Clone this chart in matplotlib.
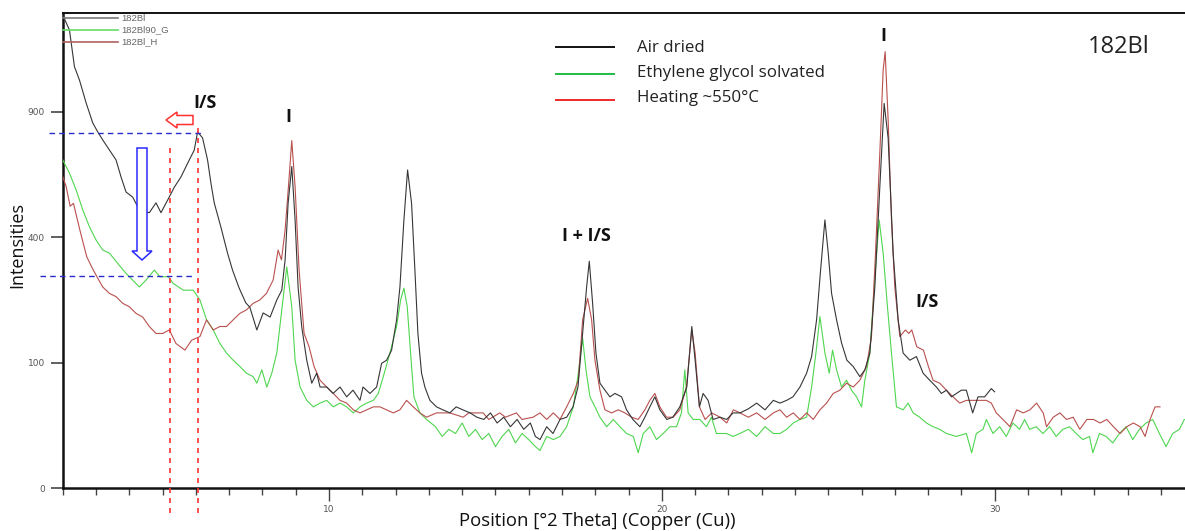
import numpy as np
import matplotlib
matplotlib.use("Agg")
import matplotlib.pyplot as plt
from matplotlib.patches import Polygon
from matplotlib.lines import Line2D
from matplotlib.ticker import MultipleLocator, FixedLocator
import matplotlib.transforms as mtransforms

# ---------------- data ----------------
air_x = [2.0, 2.2, 2.35, 2.5, 2.7, 2.9, 3.05, 3.2, 3.4, 3.6, 3.75, 3.9, 4.1, 4.3, 4.45, 4.6, 4.8, 4.95,
         5.15, 5.35, 5.55, 5.8, 5.95, 6.05, 6.2, 6.35, 6.45, 6.55, 6.75, 6.95, 7.1, 7.3, 7.5, 7.62, 7.83,
         8.02, 8.23, 8.43, 8.58, 8.68, 8.77, 8.88, 8.98, 9.07, 9.18, 9.33, 9.48, 9.63, 9.73, 9.93, 10.12,
         10.33, 10.53, 10.72, 10.93, 11.02, 11.23, 11.43, 11.58, 11.73, 11.88, 12.03, 12.13, 12.25, 12.36,
         12.48, 12.58, 12.67, 12.78, 12.88, 13.03, 13.23, 13.42, 13.63, 13.82, 14.02, 14.24, 14.44, 14.65,
         14.85, 15.05, 15.25, 15.45, 15.65, 15.85, 16.05, 16.2, 16.34, 16.54, 16.73, 16.94, 17.14, 17.33,
         17.48, 17.63, 17.74, 17.82, 17.92, 18.02, 18.14, 18.29, 18.44, 18.59, 18.79, 18.94, 19.13, 19.34,
         19.49, 19.64, 19.79, 19.94, 20.15, 20.33, 20.54, 20.75, 20.9, 21.0, 21.13, 21.24, 21.39, 21.54,
         21.75, 21.95, 22.14, 22.35, 22.6, 22.85, 23.1, 23.35, 23.55, 23.75, 23.94, 24.15, 24.35, 24.5,
         24.65, 24.77, 24.9, 25.0, 25.1, 25.25, 25.4, 25.56, 25.75, 25.95, 26.1, 26.25, 26.4, 26.55, 26.68,
         26.8, 26.95, 27.1, 27.25, 27.45, 27.65, 27.85, 28.05, 28.25, 28.4, 28.55, 28.7, 28.85, 29.0,
         29.15, 29.34, 29.5, 29.7, 29.9, 30.0]
air_y = [1420, 1333, 1128, 1058, 943, 847, 806, 770, 726, 684, 615, 557, 538, 492, 485, 482, 517, 482,
         527, 575, 615, 684, 726, 806, 779, 684, 592, 517, 433, 351, 302, 254, 218, 208, 159,
         195, 186, 225, 249, 331, 515, 657, 457, 257, 165, 104, 70, 84, 65, 65, 57,
         65, 53, 61, 49, 65, 57, 65, 99, 104, 121, 180, 257, 457, 643,
         515, 302, 152, 84, 65, 49, 42, 39, 36, 42, 39, 36, 32, 30,
         36, 27, 32, 24, 30, 22, 27, 17, 15, 24, 19, 30, 32, 42,
         65, 159, 257, 327, 217, 116, 70, 61, 53, 57, 53, 39, 30, 24,
         32, 42, 53, 39, 30, 32, 42, 65, 166, 104, 42, 57, 49, 30,
         32, 30, 36, 36, 40, 46, 39, 49, 46, 49, 53, 65, 84, 110,
         180, 302, 457, 351, 241, 180, 134, 104, 94, 79, 89, 116, 257, 577, 940,
         778, 351, 180, 116, 104, 110, 84, 74, 65, 57, 61, 53, 57, 61,
         61, 36, 53, 53, 63, 59]

eg_x = [2.0, 2.2, 2.4, 2.6, 2.8, 3.0, 3.2, 3.4, 3.65, 3.9, 4.1, 4.3, 4.5, 4.75, 4.92, 5.17, 5.32, 5.62,
        5.92, 6.12, 6.32, 6.52, 6.72, 6.92, 7.12, 7.32, 7.52, 7.72, 7.83, 7.98, 8.13, 8.28, 8.43, 8.58,
        8.73, 8.88, 8.98, 9.13, 9.33, 9.53, 9.73, 9.93, 10.13, 10.33, 10.53, 10.73, 10.93, 11.13, 11.33,
        11.48, 11.63, 11.83, 12.03, 12.15, 12.25, 12.35, 12.45, 12.55, 12.73, 12.93, 13.2, 13.4, 13.6,
        13.8, 14.0, 14.2, 14.4, 14.6, 14.8, 15.0, 15.2, 15.4, 15.6, 15.8, 16.0, 16.2, 16.34, 16.54, 16.74,
        16.94, 17.14, 17.34, 17.49, 17.62, 17.72, 17.84, 17.99, 18.14, 18.34, 18.54, 18.74, 18.94, 19.14,
        19.29, 19.44, 19.64, 19.84, 20.04, 20.24, 20.44, 20.59, 20.69, 20.79, 20.94, 21.14, 21.34, 21.49,
        21.64, 21.94, 22.14, 22.34, 22.6, 22.85, 23.1, 23.35, 23.55, 23.75, 23.95, 24.15, 24.35, 24.5,
        24.63, 24.75, 24.9, 25.03, 25.13, 25.25, 25.4, 25.55, 25.7, 25.85, 26.0, 26.1, 26.25, 26.38,
        26.53, 26.65, 26.77, 26.9, 27.05, 27.25, 27.4, 27.55, 27.75, 27.95, 28.15, 28.35, 28.55, 28.85,
        29.15, 29.31, 29.45, 29.65, 29.75, 29.95, 30.15, 30.35, 30.55, 30.75, 30.9, 31.05, 31.25, 31.45,
        31.65, 31.85, 32.05, 32.25, 32.45, 32.65, 32.85, 32.95, 33.15, 33.35, 33.55, 33.75, 33.95, 34.15,
        34.35, 34.55, 34.75, 34.95, 35.15, 35.35, 35.55, 35.7]
eg_y = [684, 630, 565, 492, 434, 391, 360, 351, 321, 293, 275, 257, 275, 302, 284, 284, 266, 249,
        249, 225, 180, 159, 133, 116, 104, 94, 84, 79, 70, 89, 65, 84, 116, 202,
        311, 209, 104, 65, 49, 42, 46, 49, 42, 46, 42, 36, 42, 46, 49,
        57, 79, 116, 166, 225, 254, 209, 116, 53, 36, 30, 24, 17, 22,
        19, 27, 17, 22, 15, 19, 11, 17, 22, 13, 19, 15, 11, 9, 17, 15,
        17, 24, 42, 84, 143, 89, 53, 42, 32, 24, 30, 24, 19, 17,
        8, 19, 24, 15, 19, 24, 24, 36, 89, 36, 30, 30, 24, 32,
        19, 19, 17, 19, 22, 17, 24, 19, 19, 22, 27, 30, 32, 65,
        116, 187, 116, 84, 121, 89, 65, 74, 61, 53, 42, 74, 116, 257,
        457, 351, 217, 116, 42, 39, 46, 36, 32, 27, 24, 22, 19, 17,
        19, 8, 19, 22, 30, 19, 24, 17, 27, 22, 30, 22, 24, 19,
        24, 17, 22, 24, 19, 15, 17, 8, 19, 17, 13, 19, 24, 15,
        22, 27, 30, 19, 11, 19, 22, 30]

heat_x = [2.0, 2.1, 2.22, 2.32, 2.52, 2.72, 2.9, 3.05, 3.2, 3.4, 3.6, 3.8, 4.0, 4.2, 4.4, 4.6, 4.8, 5.0,
          5.2, 5.4, 5.67, 5.87, 6.12, 6.32, 6.52, 6.72, 6.92, 7.12, 7.32, 7.52, 7.72, 7.92, 8.12, 8.32,
          8.47, 8.57, 8.68, 8.78, 8.88, 8.98, 9.1, 9.25, 9.4, 9.55, 9.73, 9.93, 10.13, 10.33, 10.53, 10.73,
          10.93, 11.13, 11.33, 11.53, 11.73, 11.93, 12.13, 12.33, 12.53, 12.73, 12.93, 13.23, 13.63, 14.03,
          14.2, 14.63, 14.8, 15.13, 15.3, 15.63, 15.8, 16.13, 16.34, 16.54, 16.74, 16.94, 17.14, 17.34,
          17.49, 17.62, 17.77, 17.89, 17.99, 18.14, 18.29, 18.49, 18.69, 18.89, 19.09, 19.29, 19.49, 19.64,
          19.79, 19.94, 20.14, 20.34, 20.54, 20.74, 20.9, 21.0, 21.13, 21.3, 21.5, 21.75, 21.95, 22.15,
          22.35, 22.6, 22.85, 23.1, 23.35, 23.55, 23.75, 23.95, 24.15, 24.35, 24.55, 24.75, 24.95, 25.15,
          25.35, 25.55, 25.75, 25.95, 26.15, 26.3, 26.42, 26.55, 26.65, 26.71, 26.8, 26.9, 27.0, 27.15,
          27.32, 27.42, 27.51, 27.66, 27.86, 28.01, 28.15, 28.35, 28.55, 28.75, 28.95, 29.15, 29.45, 29.75,
          29.9, 30.05, 30.25, 30.46, 30.66, 30.86, 31.06, 31.26, 31.46, 31.56, 31.76, 31.96, 32.16, 32.36,
          32.56, 32.77, 32.97, 33.17, 33.37, 33.57, 33.77, 33.97, 34.17, 34.37, 34.52, 34.67, 34.82, 34.97]
heat_y = [616, 578, 505, 515, 420, 340, 305, 280, 257, 241, 233, 217, 209, 194, 186, 166, 152, 152,
          159, 133, 121, 139, 146, 180, 159, 166, 166, 180, 194, 202, 217, 225, 241, 275,
          360, 331, 423, 577, 767, 577, 302, 152, 127, 94, 74, 65, 57, 49, 46, 39,
          36, 39, 42, 42, 39, 36, 39, 49, 42, 36, 32, 36, 36, 32,
          36, 36, 30, 36, 32, 36, 30, 32, 36, 30, 36, 30, 42, 57,
          74, 180, 229, 180, 104, 61, 39, 36, 39, 36, 32, 30, 39, 49,
          57, 42, 32, 32, 39, 65, 159, 116, 42, 30, 36, 32, 27, 39,
          36, 32, 36, 30, 36, 39, 32, 36, 30, 36, 30, 39, 46, 57,
          61, 70, 65, 74, 94, 146, 350, 713, 1110, 1210, 861, 457, 257, 146,
          159, 152, 159, 127, 121, 94, 74, 70, 61, 53, 46, 49, 49, 49,
          46, 36, 30, 24, 39, 36, 39, 46, 36, 24, 32, 36, 30, 32,
          22, 30, 30, 27, 30, 24, 19, 24, 27, 24, 17, 30, 42, 42]

y_ticks = [0, 100, 400, 900]
x_ticks = [10, 20, 30]
series_labels = ["182Bl", "182Bl90_G", "182Bl_H"]
legend_labels = ["Air dried", "Ethylene glycol solvated", "Heating ~550\u00b0C"]
peak_labels = ["I/S", "I", "I + I/S", "I", "I/S"]
peak_pos = [(6.27, 942), (8.77, 875), (17.72, 404), (26.65, 1298), (27.97, 220)]

# ---------------- figure ----------------
W, H = 1185, 531
fig = plt.figure(figsize=(W / 100, H / 100), dpi=100)
L, B, T = 62.8, 488.2, 13.0
ax = fig.add_axes([L / W, (H - B) / H, 1 - L / W, (B - T) / H])
ax.set_yscale("function", functions=(lambda v: np.sqrt(np.clip(v, 0, None)), lambda v: np.square(v)))
ax.set_xlim(2.0, 2.0 + (W - L) / 33.28)
ax.set_ylim(0, ((B - T) / 12.55) ** 2)

c_black, c_green, c_red = "#363636", "#4fd64f", "#b8504e"
ax.plot(eg_x, eg_y, color=c_green, lw=0.8, zorder=3)
ax.plot(heat_x, heat_y, color=c_red, lw=0.8, zorder=4)
ax.plot(air_x, air_y, color=c_black, lw=0.8, zorder=5)

ax.yaxis.set_major_locator(FixedLocator(y_ticks))
ax.set_yticklabels([str(v) for v in y_ticks])
ax.xaxis.set_major_locator(FixedLocator(x_ticks))
ax.xaxis.set_minor_locator(MultipleLocator(1))
ax.set_xticklabels([str(v) for v in x_ticks])
ax.tick_params(axis="y", which="major", length=9, width=1.2, color="#444444",
               labelsize=6.5, labelcolor="#555555", pad=4)
ax.tick_params(axis="y", which="minor", length=0)
ax.tick_params(axis="x", which="major", length=9, width=1.0, color="#444444",
               labelsize=6.5, labelcolor="#555555", pad=3)
ax.tick_params(axis="x", which="minor", length=5, width=1.0, color="#444444")
for s in ["left", "bottom"]:
    ax.spines[s].set_linewidth(1.8)
    ax.spines[s].set_color("#111111")
ax.spines["top"].set_linewidth(1.4)
ax.spines["top"].set_color("#111111")
ax.spines["right"].set_visible(False)

fig.text(597 / W, 1 - 521.5 / H, "Position [\u00b02 Theta] (Copper (Cu))", ha="center", va="center",
         fontsize=13.3, family="Open Sans", color="#111111")
fig.text(17 / W, 1 - 245 / H, "Intensities", ha="center", va="center", rotation=90,
         fontsize=13, family="Open Sans", color="#111111")

def fp(px, py):
    return (px / W, 1 - py / H)

# software legend (top-left)
sw_cols = ["#7a7a7a", "#66dd66", "#b06060"]
for i, (lab, col) in enumerate(zip(series_labels, sw_cols)):
    py = 18.3 + i * 11.8
    fig.add_artist(Line2D([fp(63, py)[0], fp(118, py)[0]], [fp(63, py)[1]] * 2,
                          color=col, lw=1.2, transform=fig.transFigure))
    fig.text(fp(121.5, py)[0], fp(121.5, py)[1], lab, fontsize=6.8, color="#666666",
             family="Liberation Sans", va="center", ha="left")

# manual legend
lg_cols = ["#111111", "#22bb44", "#ee2a2a"]
lg_y_line = [47.3, 73.5, 100.0]
lg_y_text = [48.0, 73.0, 98.5]
for lab, col, yl, yt in zip(legend_labels, lg_cols, lg_y_line, lg_y_text):
    fig.add_artist(Line2D([fp(556, yl)[0], fp(614, yl)[0]], [fp(556, yl)[1]] * 2,
                          color=col, lw=1.4, transform=fig.transFigure))
    fig.text(fp(637, yt)[0], fp(637, yt)[1], lab, fontsize=12.2, color="#222222",
             family="Open Sans", va="center", ha="left")

fig.text(fp(1119, 47)[0], fp(1119, 47)[1], "182Bl", fontsize=17, color="#222222",
         family="Open Sans", va="center", ha="center")

# peak labels
for lab, (px_, py_) in zip(peak_labels, peak_pos):
    ax.text(px_, py_, lab, fontsize=13, fontweight="bold", family="Open Sans",
            color="#111111", ha="center", va="center", zorder=6)

# red hollow arrow (pointing left)
red_arrow = [(166, 120), (177, 112), (177, 115.5), (193, 115.5), (193, 124.5), (177, 124.5), (177, 128)]
fig.add_artist(Polygon([fp(*p) for p in red_arrow], closed=True, fc="white", ec="#ff3030",
                       lw=1.1, transform=fig.transFigure))
# blue hollow arrow (pointing down)
blue_arrow = [(137, 148), (147, 148), (147, 251), (152, 251), (142, 260), (132, 251), (137, 251)]
fig.add_artist(Polygon([fp(*p) for p in blue_arrow], closed=True, fc="white", ec="#2a2aff",
                       lw=1.1, transform=fig.transFigure))

# blue dashed guide lines (at I/S peak level and glycolated level)
for x0, x1, lvl in [(1.59, 6.2, 802), (1.32, 5.9, 287)]:
    ax.plot([x0, x1], [lvl, lvl], color="#2a2acc", lw=1.0, ls=(0, (4, 3)), clip_on=False, zorder=7)

# red dashed vertical lines
trans = mtransforms.blended_transform_factory(ax.transData, ax.transAxes)
for xv, ytop in [(5.23, 0.716), (6.07, 0.758)]:
    ax.plot([xv, xv], [ytop, -0.052], color="#ff3333", lw=1.2, ls=(0, (3, 3)),
            transform=trans, clip_on=False, zorder=7)

fig.savefig("out.png", dpi=100, facecolor="white")
